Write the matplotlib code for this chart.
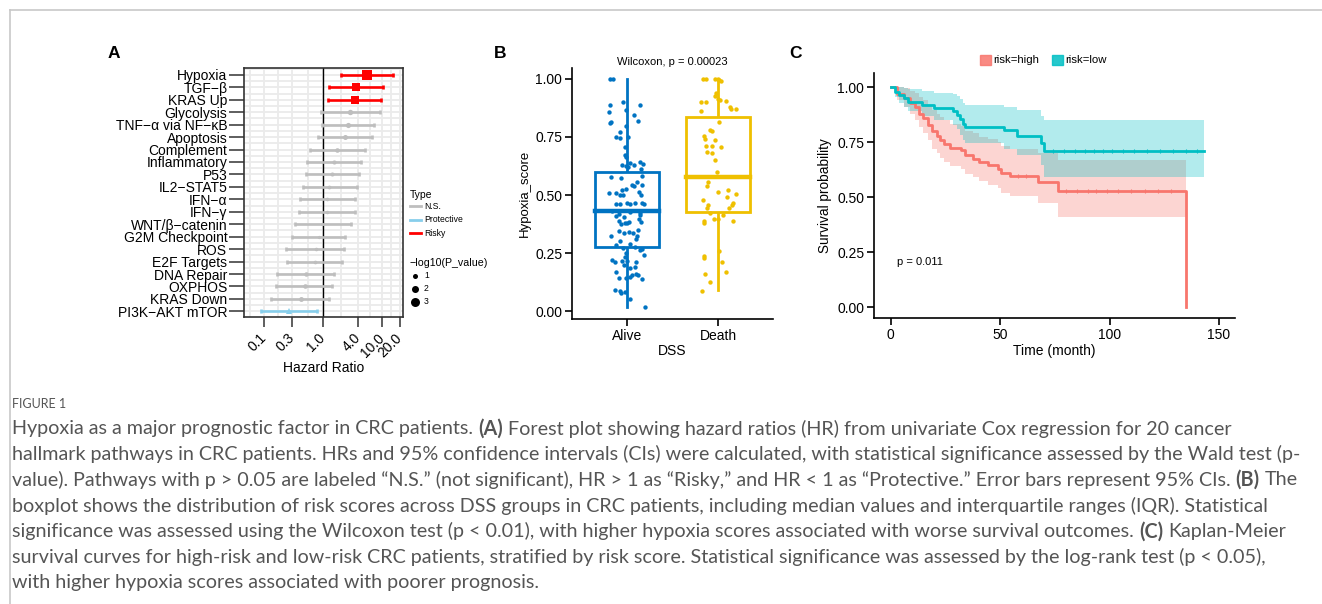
import matplotlib
matplotlib.use("Agg")
import matplotlib.pyplot as plt
from matplotlib.lines import Line2D
import numpy as np

plt.rcParams['font.family'] = ['Liberation Sans', 'DejaVu Sans']

W, H = 1322, 604

# -----------------------
# DATA
# -----------------------

# panel A: forest plot (top to bottom)
pathways = ["Hypoxia", "TGF\u2212\u03b2", "KRAS Up", "Glycolysis", "TNF\u2212\u03b1 via NF\u2212\u03baB",
            "Apoptosis", "Complement", "Inflammatory", "P53", "IL2\u2212STAT5", "IFN\u2212\u03b1",
            "IFN\u2212\u03b3", "WNT/\u03b2\u2212catenin", "G2M Checkpoint", "ROS", "E2F Targets",
            "DNA Repair", "OXPHOS", "KRAS Down", "PI3K\u2212AKT mTOR"]
hr = [5.5, 3.67, 3.48, 2.91, 2.69, 2.34, 1.76, 1.51, 1.45, 1.28, 1.18, 1.15,
      0.97, 0.85, 0.75, 0.72, 0.51, 0.49, 0.42, 0.27]
hr_low = [2.0, 1.29, 1.23, 0.94, 0.98, 0.835, 0.614, 0.532, 0.526, 0.456, 0.412, 0.396,
          0.34, 0.298, 0.234, 0.246, 0.165, 0.163, 0.133, 0.091]
hr_high = [15.3, 10.5, 9.75, 9.14, 7.44, 6.71, 5.19, 4.33, 4.12, 3.71, 3.53, 3.53,
           2.94, 2.37, 2.31, 2.11, 1.51, 1.42, 1.29, 0.79]
path_type = ["Risky", "Risky", "Risky"] + ["N.S."] * 16 + ["Protective"]
neglog_p = [3.1, 2.4, 2.3, 1.2, 1.1, 1.0, 0.8, 0.6, 0.55, 0.4, 0.3, 0.25,
            0.05, 0.15, 0.3, 0.35, 0.75, 0.8, 0.95, 1.7]
hr_ticks = [0.1, 0.3, 1.0, 4.0, 10.0, 20.0]

# panel B: jittered hypoxia scores (offset from group centre, score)
alive_dx = [-0.18, -0.15, -0.18, -0.04, 0.14, -0.19, -0.01, 0.08, -0.18, -0.17, 0.12, -0.01,
            -0.08, -0.12, 0.01, -0.08, -0.02, -0.02, -0.01, -0.05, 0.04, 0.14, 0.08, 0.15,
            -0.01, 0.01, 0.18, -0.17, -0.06, 0.17, 0.11, 0.06, 0.17, -0.01, -0.05, -0.19,
            0.08, -0.12, -0.08, -0.04, 0.13, 0.16, 0.00, 0.03, -0.12, -0.08, 0.09, 0.17,
            0.19, -0.16, 0.14, 0.04, -0.09, -0.12, -0.03, 0.14, 0.13, -0.09, -0.02, 0.00,
            0.02, -0.06, 0.16, 0.12, 0.02, -0.09, -0.03, 0.07, 0.11, 0.10, -0.17, -0.08,
            0.03, -0.12, -0.04, 0.09, 0.14, 0.17, 0.19, -0.01, -0.02, -0.16, -0.13, 0.00,
            -0.05, -0.03, 0.10, 0.03, 0.09, -0.12, 0.06, 0.10, 0.03, 0.12, 0.17, -0.09,
            -0.01, -0.08, -0.13, -0.06, -0.02, 0.04, 0.20]
alive_y = [1.0, 1.0, 0.888, 0.898, 0.888, 0.857, 0.864, 0.844, 0.809, 0.815, 0.817, 0.795,
           0.772, 0.748, 0.748, 0.746, 0.706, 0.673, 0.663, 0.630, 0.639, 0.643, 0.629, 0.612,
           0.623, 0.620, 0.633, 0.577, 0.575, 0.580, 0.554, 0.544, 0.542, 0.524, 0.521, 0.509,
           0.537, 0.507, 0.499, 0.501, 0.514, 0.500, 0.464, 0.463, 0.460, 0.463, 0.467, 0.467,
           0.460, 0.433, 0.423, 0.427, 0.418, 0.411, 0.407, 0.413, 0.398, 0.387, 0.378, 0.381,
           0.383, 0.374, 0.383, 0.351, 0.342, 0.345, 0.337, 0.337, 0.325, 0.311, 0.324, 0.301,
           0.291, 0.284, 0.274, 0.278, 0.262, 0.266, 0.244, 0.249, 0.235, 0.219, 0.211, 0.218,
           0.216, 0.201, 0.212, 0.188, 0.189, 0.169, 0.158, 0.159, 0.146, 0.158, 0.138, 0.145,
           0.142, 0.087, 0.090, 0.080, 0.082, 0.053, 0.019]
death_dx = [-0.17, -0.13, -0.04, 0.00, 0.01, 0.03, -0.02, -0.03, 0.00, 0.02, -0.19, -0.13,
            0.09, 0.14, 0.19, 0.13, -0.19, 0.01, -0.09, -0.07, -0.16, -0.14, -0.03, -0.07,
            -0.13, 0.03, -0.12, -0.07, -0.03, -0.01, -0.11, -0.12, 0.00, 0.11, 0.20, 0.10,
            -0.17, -0.11, -0.12, 0.15, 0.16, 0.12, -0.09, 0.05, -0.05, 0.00, -0.16, -0.16,
            0.16, 0.01, -0.15, -0.16, 0.04, 0.09, -0.14, -0.09, -0.18]
death_y = [1.0, 1.0, 1.0, 1.0, 0.994, 0.989, 0.938, 0.924, 0.914, 0.907, 0.898, 0.900,
           0.905, 0.870, 0.870, 0.877, 0.862, 0.815, 0.778, 0.776, 0.755, 0.741, 0.735, 0.709,
           0.709, 0.706, 0.683, 0.681, 0.649, 0.600, 0.557, 0.537, 0.511, 0.523, 0.506, 0.490,
           0.480, 0.456, 0.444, 0.456, 0.464, 0.444, 0.423, 0.415, 0.398, 0.398, 0.380, 0.387,
           0.387, 0.258, 0.236, 0.229, 0.212, 0.169, 0.160, 0.128, 0.087]
groups = ["Alive", "Death"]
# box stats: whisker low, q1, median, q3, whisker high
alive_box = [0.02, 0.277, 0.433, 0.597, 1.0]
death_box = [0.09, 0.427, 0.576, 0.835, 1.0]

# panel C: Kaplan-Meier steps
high_t = [0, 3, 6, 9, 11, 13, 15, 17, 19, 21, 22.5, 24.5, 27, 32, 34, 37.5, 40.5, 44.5,
          49, 50.6, 54.4, 67.4, 76.5, 134.9]
high_s = [1.0, 0.97, 0.95, 0.93, 0.91, 0.88, 0.86, 0.83, 0.80, 0.78, 0.76, 0.74, 0.725,
          0.715, 0.69, 0.675, 0.66, 0.645, 0.63, 0.61, 0.595, 0.57, 0.53, 0.0]
high_up = [1.0, 1.0, 0.995, 0.985, 0.975, 0.955, 0.94, 0.92, 0.895, 0.88, 0.865, 0.85,
           0.835, 0.825, 0.80, 0.79, 0.775, 0.765, 0.75, 0.735, 0.72, 0.70, 0.67, 0.67]
high_lo = [1.0, 0.94, 0.91, 0.88, 0.85, 0.82, 0.79, 0.76, 0.72, 0.70, 0.68, 0.66, 0.64,
           0.63, 0.605, 0.59, 0.575, 0.555, 0.54, 0.52, 0.505, 0.475, 0.41, 0.41]
low_t = [0, 2, 4, 6, 8, 14.5, 20, 28.5, 30.5, 31.5, 33, 34, 51.7, 57.5, 68.9, 70, 143]
low_s = [1.0, 0.98, 0.965, 0.95, 0.935, 0.92, 0.905, 0.89, 0.875, 0.855, 0.835, 0.82,
         0.805, 0.78, 0.745, 0.71, 0.71]
low_up = [1.0, 1.0, 1.0, 0.995, 0.99, 0.985, 0.975, 0.97, 0.96, 0.945, 0.93, 0.92, 0.91,
          0.895, 0.87, 0.85, 0.85]
low_lo = [1.0, 0.955, 0.93, 0.91, 0.89, 0.87, 0.85, 0.83, 0.81, 0.785, 0.76, 0.745, 0.72,
          0.69, 0.645, 0.59, 0.59]
high_cens = [58, 62, 80, 85, 90, 94, 99, 104, 110, 116, 122, 128]
low_cens = [74, 79, 84, 89, 93, 97, 101, 106, 111, 117, 123, 129, 135, 140]

caption_lines = [
    [("Hypoxia as a major prognostic factor in CRC patients.", False), ("(A)", True),
     ("Forest plot showing hazard ratios (HR) from univariate Cox regression for 20 cancer", False)],
    [("hallmark pathways in CRC patients. HRs and 95% confidence intervals (CIs) were calculated, with statistical significance assessed by the Wald test (p-", False)],
    [("value). Pathways with p > 0.05 are labeled \u201cN.S.\u201d (not significant), HR > 1 as \u201cRisky,\u201d and HR < 1 as \u201cProtective.\u201d Error bars represent 95% CIs.", False),
     ("(B)", True), ("The", False)],
    [("boxplot shows the distribution of risk scores across DSS groups in CRC patients, including median values and interquartile ranges (IQR). Statistical", False)],
    [("significance was assessed using the Wilcoxon test (p < 0.01), with higher hypoxia scores associated with worse survival outcomes.", False),
     ("(C)", True), ("Kaplan-Meier", False)],
    [("survival curves for high-risk and low-risk CRC patients, stratified by risk score. Statistical significance was assessed by the log-rank test (p < 0.05),", False)],
    [("with higher hypoxia scores associated with poorer prognosis.", False)],
]


def px_rect(left, top, right, bottom):
    return [left / W, 1 - bottom / H, (right - left) / W, (bottom - top) / H]


def fx(x):
    return x / W


def fy(y):
    return 1 - y / H


fig = plt.figure(figsize=(W / 100, H / 100), dpi=100)

# page frame
fig.add_artist(Line2D([fx(10), 1], [fy(10), fy(10)], color="#c8c8c8", lw=1.2))
fig.add_artist(Line2D([fx(10), fx(10)], [fy(10), 0], color="#c8c8c8", lw=1.2))

# -----------------------
# PANEL A
# -----------------------
axA = fig.add_axes(px_rect(244, 68, 403, 317))
n = len(pathways)
ypos = np.arange(n)[::-1]
type_colors = {"N.S.": "#bebebe", "Protective": "#87ceeb", "Risky": "#ff0000"}
type_marker = {"N.S.": "o", "Protective": "^", "Risky": "s"}

axA.set_xscale("log")
axA.set_xlim(0.046, 22.7)
axA.set_ylim(-0.45, n - 0.45)

# grid: majors at breaks, minors at log-midpoints
lb = np.log10(hr_ticks)
minors = [10 ** (lb[0] - (lb[1] - lb[0]) / 2)] + [10 ** ((a + b) / 2) for a, b in zip(lb[:-1], lb[1:])]
for v in list(hr_ticks) + minors:
    axA.axvline(v, color="#ebebeb", lw=1.3, zorder=0)
for yy in np.arange(-0.5, n, 0.5):
    axA.axhline(yy, color="#ebebeb", lw=1.3, zorder=0)
axA.axvline(1.0, color="black", lw=1.0, zorder=1)

for i in range(n):
    c = type_colors[path_type[i]]
    axA.errorbar(hr[i], ypos[i], xerr=[[hr[i] - hr_low[i]], [hr_high[i] - hr[i]]],
                 fmt="none", ecolor=c, elinewidth=1.9, capsize=1.6, capthick=1.9, zorder=2)
    axA.plot(hr[i], ypos[i], marker=type_marker[path_type[i]], color=c,
             ms=0.72 * (3 + 2 * neglog_p[i]), mew=0, zorder=3)

axA.set_yticks(ypos)
axA.set_yticklabels(pathways, fontsize=10, color="black")
axA.set_xticks(hr_ticks)
axA.set_xticklabels(["%.1f" % v for v in hr_ticks], fontsize=10, rotation=45,
                    ha="right", va="center", rotation_mode="anchor")
axA.xaxis.set_minor_locator(matplotlib.ticker.NullLocator())
axA.tick_params(axis="y", length=11, width=1.1, color="#333333", pad=1)
axA.tick_params(axis="x", length=7.5, width=1.1, color="#333333", pad=6)
for sp in axA.spines.values():
    sp.set_color("#333333")
    sp.set_linewidth(1.2)
axA.set_xlabel("Hazard Ratio", fontsize=10, labelpad=1)

# legend for panel A (manual)
fig.text(fx(410), fy(195), "Type", fontsize=7.5, va="center", ha="left")
for k, (lab, yy) in enumerate(zip(["N.S.", "Protective", "Risky"], [206, 219.5, 233])):
    fig.add_artist(Line2D([fx(410), fx(421)], [fy(yy), fy(yy)], color=type_colors[lab], lw=2))
    fig.text(fx(424), fy(yy), lab, fontsize=6.2, va="center", ha="left")
fig.text(fx(410), fy(263), "\u2212log10(P_value)", fontsize=7.7, va="center", ha="left")
for v, yy in zip([1, 2, 3], [276, 289, 302]):
    fig.add_artist(Line2D([fx(415)], [fy(yy)], marker="o", color="black",
                          ms=0.72 * (3 + 2 * v), mew=0, ls="none"))
    fig.text(fx(424), fy(yy), str(v), fontsize=6.2, va="center", ha="left")

# -----------------------
# PANEL B
# -----------------------
axB = fig.add_axes(px_rect(572, 68, 773, 319))
grp_colors = ["#0073c2", "#efc000"]
boxes = [alive_box, death_box]
dxs = [alive_dx, death_dx]
ys = [alive_y, death_y]
for g in range(2):
    c = grp_colors[g]
    wl, q1, med, q3, wh = boxes[g]
    xc = g + 1
    bw = 0.35
    axB.plot([xc, xc], [wl, q1], color=c, lw=2.0, zorder=1)
    axB.plot([xc, xc], [q3, wh], color=c, lw=2.0, zorder=1)
    axB.add_patch(plt.Rectangle((xc - bw, q1), 2 * bw, q3 - q1, facecolor="white",
                                edgecolor=c, lw=2.0, zorder=2))
    axB.plot([xc - bw, xc + bw], [med, med], color=c, lw=3.2, zorder=3)
    axB.scatter(xc + np.array(dxs[g]), ys[g], s=10, color=c, lw=0, zorder=4)
axB.set_xlim(0.4, 2.6)
axB.set_ylim(-0.033, 1.046)
axB.set_xticks([1, 2])
axB.set_xticklabels(groups, fontsize=10)
axB.set_yticks([0, 0.25, 0.5, 0.75, 1.0])
axB.set_yticklabels(["0.00", "0.25", "0.50", "0.75", "1.00"], fontsize=10)
axB.spines["top"].set_visible(False)
axB.spines["right"].set_visible(False)
for sp in ["left", "bottom"]:
    axB.spines[sp].set_linewidth(1.2)
axB.tick_params(axis="both", length=5, width=1.2, pad=2)
axB.set_xlabel("DSS", fontsize=10, labelpad=1)
axB.set_ylabel("Hypoxia_score", fontsize=9.5, labelpad=3)
axB.text(1.5, 1.07, "Wilcoxon, p = 0.00023", fontsize=8, ha="center", va="center")

# -----------------------
# PANEL C
# -----------------------
axC = fig.add_axes(px_rect(874, 73, 1235, 318))
col_high, col_low = "#f8766d", "#00bfc4"
axC.fill_between(high_t, high_lo, high_up, step="post", color=col_high, alpha=0.3, lw=0)
axC.fill_between(low_t, low_lo, low_up, step="post", color=col_low, alpha=0.3, lw=0)
axC.step(high_t, high_s, where="post", color=col_high, lw=2.0)
axC.step(low_t, low_s, where="post", color=col_low, lw=2.0)
hs = [high_s[np.searchsorted(high_t, t, side="right") - 1] for t in high_cens]
ls_ = [low_s[np.searchsorted(low_t, t, side="right") - 1] for t in low_cens]
axC.plot(high_cens, hs, ls="none", marker="|", ms=3, mew=0.8, color=col_high)
axC.plot(low_cens, ls_, ls="none", marker="|", ms=3, mew=0.8, color=col_low)
axC.set_xlim(-7.6, 157.3)
axC.set_ylim(-0.05, 1.065)
axC.set_xticks([0, 50, 100, 150])
axC.set_xticklabels(["0", "50", "100", "150"], fontsize=10)
axC.set_yticks([0, 0.25, 0.5, 0.75, 1.0])
axC.set_yticklabels(["0.00", "0.25", "0.50", "0.75", "1.00"], fontsize=10)
axC.spines["top"].set_visible(False)
axC.spines["right"].set_visible(False)
for sp in ["left", "bottom"]:
    axC.spines[sp].set_linewidth(1.2)
axC.tick_params(axis="both", length=5, width=1.2, pad=2)
axC.set_xlabel("Time (month)", fontsize=10, labelpad=2)
axC.set_ylabel("Survival probability", fontsize=9.8, labelpad=4)
axC.text(3, 0.207, "p = 0.011", fontsize=8, ha="left", va="center")

# legend C (manual)
for lab, c, xp in [("risk=high", col_high, 980), ("risk=low", col_low, 1052)]:
    fig.add_artist(plt.Rectangle((fx(xp), fy(65)), 11 / W, 10 / H, color=c, alpha=0.85))
    fig.text(fx(xp + 13), fy(60), lab, fontsize=8.2, va="center", ha="left")

# panel letters
for lab, xp in [("A", 108), ("B", 494), ("C", 789)]:
    fig.text(fx(xp), fy(53), lab, fontsize=12.5, fontweight="bold", va="center", ha="left")

# -----------------------
# CAPTION
# -----------------------
cap_color = "#555555"
cap_font = "Lato"
renderer = fig.canvas.get_renderer()


def text_width(s, size, bold=False):
    t = fig.text(0, 0, s, fontsize=size, family=cap_font,
                 fontweight="bold" if bold else "normal")
    w = t.get_window_extent(renderer).width
    t.remove()
    return w


first = " ".join(p[0] for p in caption_lines[0])
cap_size = 11.5 * 1226 / text_width(first, 11.5)
space_w = text_width("x x", cap_size) - text_width("xx", cap_size)

fig.text(fx(12), fy(404), "FIGURE 1", fontsize=9, color="#555555", family=cap_font,
         va="center", ha="left")
for li, parts in enumerate(caption_lines):
    x = 12
    yy = 428.5 + li * 25.7
    for txt, bold in parts:
        fig.text(fx(x), fy(yy), txt, fontsize=cap_size, color=cap_color, family=cap_font,
                 fontweight="bold" if bold else "normal", va="center", ha="left")
        x += text_width(txt, cap_size, bold) + space_w

fig.savefig("out.png", dpi=100)
